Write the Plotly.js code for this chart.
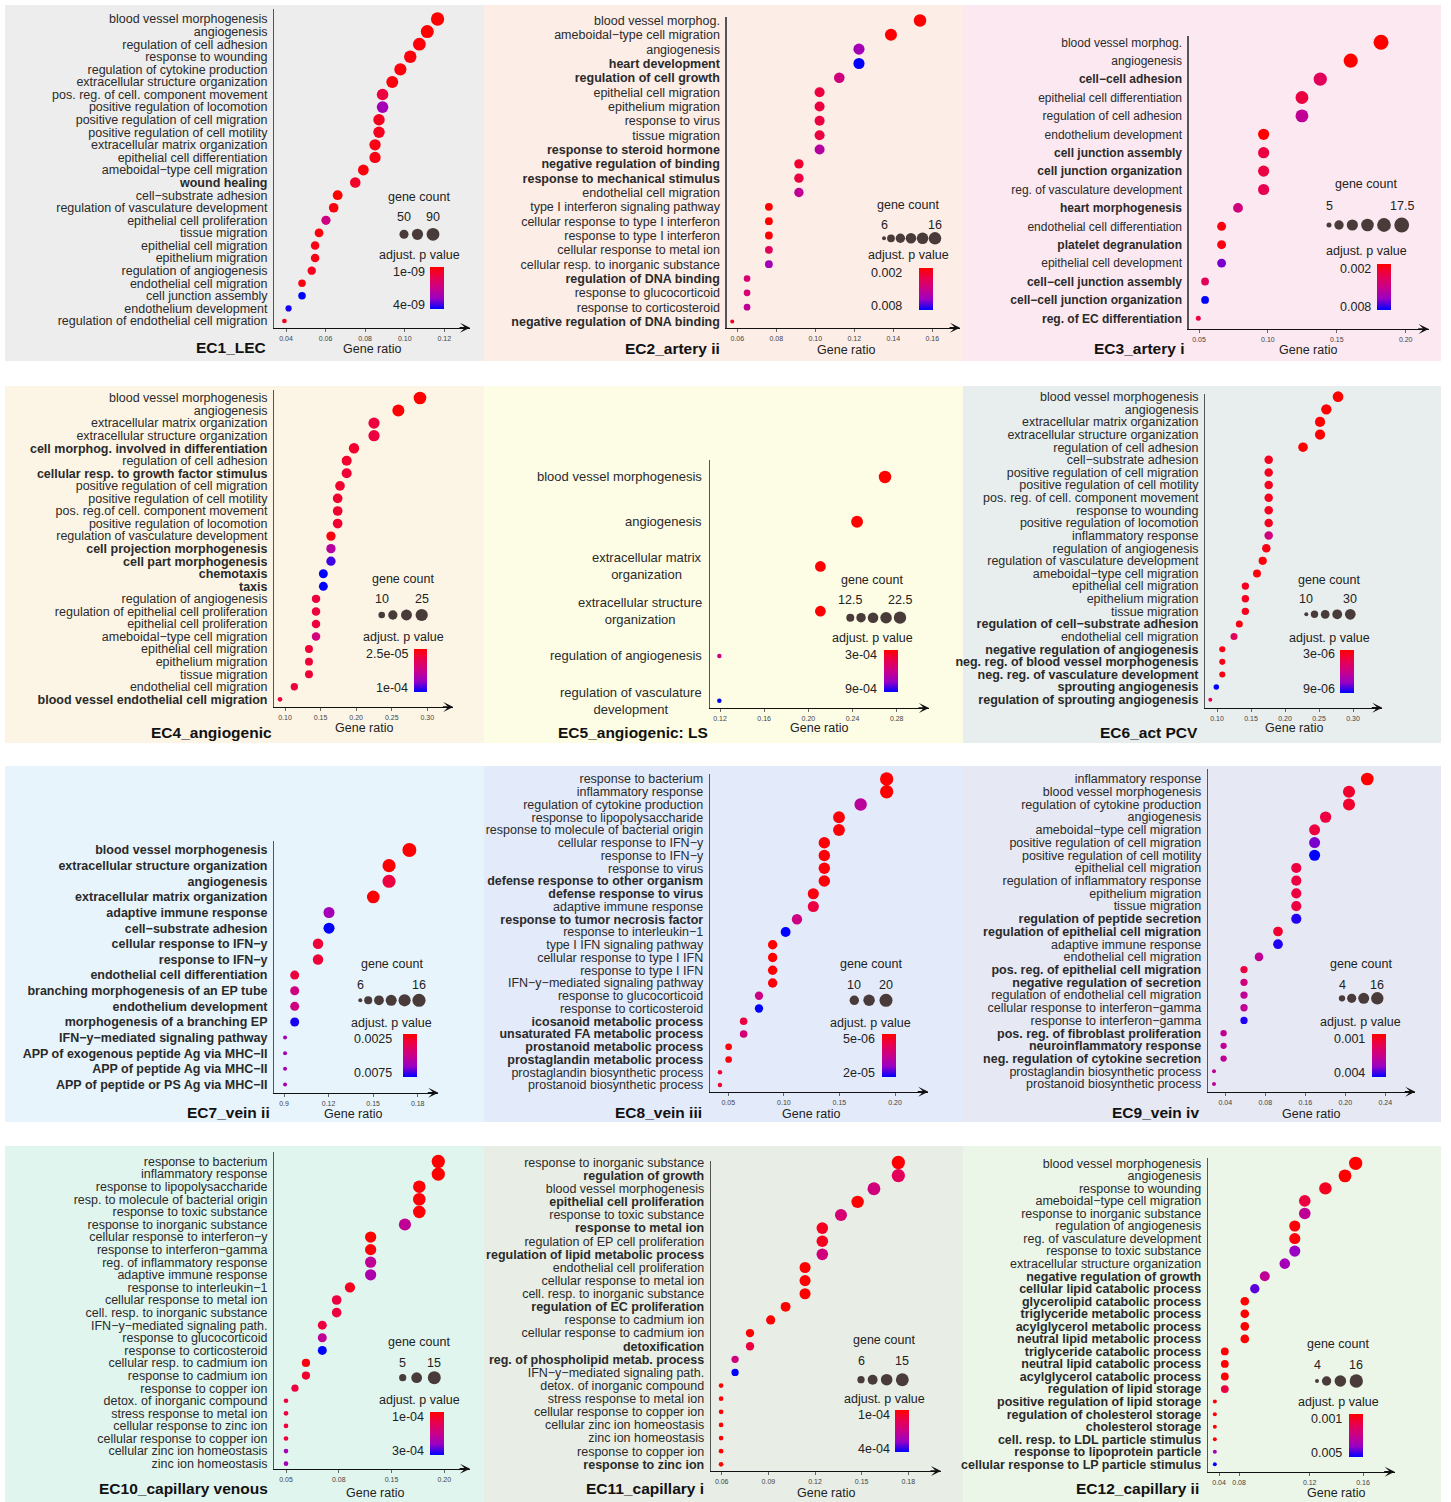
<!DOCTYPE html>
<html><head><meta charset="utf-8">
<script src="https://cdn.plot.ly/plotly-3.0.1.min.js"></script>
<style>html,body{margin:0;padding:0;background:#fff}</style>
</head><body><div id="chart" style="width:1451px;height:1502px"></div>
<script>
// ================= DATA =================
// EC1_LEC
const ec1Terms = ['blood vessel morphogenesis','angiogenesis','regulation of cell adhesion','response to wounding','regulation of cytokine production','extracellular structure organization','pos. reg. of cell. component movement','positive regulation of locomotion','positive regulation of cell migration','positive regulation of cell motility','extracellular matrix organization','epithelial cell differentiation','ameboidal−type cell migration','wound healing','cell−substrate adhesion','regulation of vasculature development','epithelial cell proliferation','tissue migration','epithelial cell migration','epithelium migration','regulation of angiogenesis','endothelial cell migration','cell junction assembly','endothelium development','regulation of endothelial cell migration'];
const ec1Ratio = [0.1166,0.1114,0.1074,0.1028,0.0978,0.0937,0.0888,0.0888,0.0870,0.0870,0.0850,0.0850,0.0791,0.0750,0.0661,0.0641,0.0602,0.0567,0.0547,0.0547,0.0530,0.0481,0.0481,0.0413,0.0392];
const ec1Count = [98,94,90,86,82,79,75,75,73,73,71,71,66,63,56,54,51,48,46,46,45,40,40,35,33];
const ec1PAdj = [1.0e-9,1.0e-9,1.1e-9,1.1e-9,1.1e-9,1.1e-9,1.6e-9,3.1e-9,1.3e-9,1.3e-9,1.2e-9,1.2e-9,1.1e-9,1.4e-9,1.0e-9,1.1e-9,2.4e-9,1.1e-9,1.2e-9,1.2e-9,1.3e-9,1.1e-9,4.0e-9,3.9e-9,1.3e-9];
const ec1Bold = [13];
const ec1SizeBreaks = [50,70,90];
const ec1SizeLabels = ['50','90'];
const ec1PLabels = ['1e-09','4e-09'];
const ec1XTicks = [0.04,0.06,0.08,0.10,0.12];
const ec1XTickText = ['0.04','0.06','0.08','0.10','0.12'];

// EC2_artery ii
const ec2Terms = ['blood vessel morphog.','ameboidal−type cell migration','angiogenesis','heart development','regulation of cell growth','epithelial cell migration','epithelium migration','response to virus','tissue migration','response to steroid hormone','negative regulation of binding','response to mechanical stimulus','endothelial cell migration','type I interferon signaling pathway','cellular response to type I interferon','response to type I interferon','cellular response to metal ion','cellular resp. to inorganic substance','regulation of DNA binding','response to glucocorticoid','response to corticosteroid','negative regulation of DNA binding'];
const ec2Ratio = [0.1537,0.1388,0.1224,0.1224,0.1123,0.1022,0.1022,0.1022,0.1022,0.1022,0.0916,0.0916,0.0916,0.0762,0.0762,0.0762,0.0762,0.0762,0.0650,0.0650,0.0650,0.0574];
const ec2Count = [16,15,13,13,12,11,11,11,11,11,10,10,10,8,8,8,8,8,7,7,7,6];
const ec2PAdj = [0.002,0.002,0.0062,0.008,0.0047,0.0032,0.0032,0.0032,0.0032,0.0056,0.0029,0.0032,0.0053,0.002,0.002,0.0021,0.0038,0.0062,0.0044,0.0044,0.0053,0.0026];
const ec2Bold = [3,4,9,10,11,18,21];
const ec2SizeBreaks = [6,8,10,12,14,16];
const ec2SizeLabels = ['6','16'];
const ec2PLabels = ['0.002','0.008'];
const ec2XTicks = [0.06,0.08,0.10,0.12,0.14,0.16];
const ec2XTickText = ['0.06','0.08','0.10','0.12','0.14','0.16'];

// EC3_artery i
const ec3Terms = ['blood vessel morphog.','angiogenesis','cell−cell adhesion','epithelial cell differentiation','regulation of cell adhesion','endothelium development','cell junction assembly','cell junction organization','reg. of vasculature development','heart morphogenesis','endothelial cell differentiation','platelet degranulation','epithelial cell development','cell−cell junction assembly','cell−cell junction organization','reg. of EC differentiation'];
const ec3Ratio = [0.1821,0.1601,0.1380,0.1247,0.1247,0.0969,0.0969,0.0969,0.0969,0.0783,0.0664,0.0664,0.0664,0.0544,0.0544,0.0495];
const ec3Count = [18,16,14,13,13,10,10,10,10,8,7,7,7,6,6,5];
const ec3PAdj = [0.002,0.002,0.0038,0.0032,0.0053,0.002,0.0032,0.0032,0.0035,0.0047,0.0023,0.0023,0.0068,0.0038,0.008,0.0032];
const ec3Bold = [2,6,7,9,11,13,14,15];
const ec3SizeBreaks = [5,7.5,10,12.5,15,17.5];
const ec3SizeLabels = ['5','17.5'];
const ec3PLabels = ['0.002','0.008'];
const ec3XTicks = [0.05,0.10,0.15,0.20];
const ec3XTickText = ['0.05','0.10','0.15','0.20'];

// EC4_angiogenic
const ec4Terms = ['blood vessel morphogenesis','angiogenesis','extracellular matrix organization','extracellular structure organization','cell morphog. involved in differentiation','regulation of cell adhesion','cellular resp. to growth factor stimulus','positive regulation of cell migration','positive regulation of cell motility','pos. reg.of cell. component movement','positive regulation of locomotion','regulation of vasculature development','cell projection morphogenesis','cell part morphogenesis','chemotaxis','taxis','regulation of angiogenesis','regulation of epithelial cell proliferation','epithelial cell proliferation','ameboidal−type cell migration','epithelial cell migration','epithelium migration','tissue migration','endothelial cell migration','blood vessel endothelial cell migration'];
const ec4Ratio = [0.2897,0.2593,0.2251,0.2251,0.1970,0.1867,0.1867,0.1773,0.1740,0.1740,0.1740,0.1646,0.1646,0.1646,0.1539,0.1539,0.1436,0.1436,0.1436,0.1436,0.1337,0.1337,0.1337,0.1131,0.0930];
const ec4Count = [27,24,21,21,18,17,17,16,16,16,16,15,15,15,14,14,13,13,13,13,12,12,12,11,9];
const ec4PAdj = [2.5e-5,2.6e-5,4.0e-5,4.0e-5,3.6e-5,3.6e-5,3.8e-5,3.6e-5,3.6e-5,3.6e-5,3.6e-5,2.8e-5,7.0e-5,9.2e-5,1.0e-4,1.0e-4,4.0e-5,4.0e-5,4.0e-5,5.9e-5,3.8e-5,3.8e-5,3.8e-5,4.0e-5,4.0e-5];
const ec4Bold = [4,6,12,13,14,15,24];
const ec4SizeBreaks = [10,15,20,25];
const ec4SizeLabels = ['10','25'];
const ec4PLabels = ['2.5e-05','1e-04'];
const ec4XTicks = [0.10,0.15,0.20,0.25,0.30];
const ec4XTickText = ['0.10','0.15','0.20','0.25','0.30'];

// EC5_angiogenic: LS
const ec5Terms = ['blood vessel morphogenesis','angiogenesis','extracellular matrix<br>organization','extracellular structure<br>organization','regulation of angiogenesis','regulation of vasculature<br>development'];
const ec5Ratio = [0.2694,0.2441,0.2109,0.2109,0.1194,0.1194];
const ec5Count = [23,21,18,18,10,10];
const ec5PAdj = [3.0e-4,3.0e-4,3.0e-4,3.0e-4,5.7e-4,9.0e-4];
const ec5Bold = [];
const ec5SizeBreaks = [12.5,15,17.5,20,22.5];
const ec5SizeLabels = ['12.5','22.5'];
const ec5PLabels = ['3e-04','9e-04'];
const ec5XTicks = [0.12,0.16,0.20,0.24,0.28];
const ec5XTickText = ['0.12','0.16','0.20','0.24','0.28'];

// EC6_act PCV
const ec6Terms = ['blood vessel morphogenesis','angiogenesis','extracellular matrix organization','extracellular structure organization','regulation of cell adhesion','cell−substrate adhesion','positive regulation of cell migration','positive regulation of cell motility','pos. reg. of cell. component movement','response to wounding','positive regulation of locomotion','inflammatory response','regulation of angiogenesis','regulation of vasculature development','ameboidal−type cell migration','epithelial cell migration','epithelium migration','tissue migration','regulation of cell−substrate adhesion','endothelial cell migration','negative regulation of angiogenesis','neg. reg. of blood vessel morphogenesis','neg. reg. of vasculature development','sprouting angiogenesis','regulation of sprouting angiogenesis'];
const ec6Ratio = [0.2780,0.2608,0.2515,0.2515,0.2265,0.1760,0.1760,0.1760,0.1760,0.1760,0.1760,0.1760,0.1725,0.1672,0.1588,0.1417,0.1417,0.1417,0.1328,0.1250,0.1078,0.1078,0.1078,0.0990,0.0902];
const ec6Count = [30,28,27,27,24,19,19,19,19,19,19,19,19,18,17,15,15,15,14,14,12,12,12,11,10];
const ec6PAdj = [3.0e-6,3.0e-6,3.0e-6,3.0e-6,3.0e-6,3.6e-6,3.6e-6,3.6e-6,3.6e-6,3.6e-6,3.6e-6,5.7e-6,3.4e-6,3.2e-6,3.2e-6,3.6e-6,3.6e-6,3.6e-6,3.3e-6,4.8e-6,3.4e-6,3.4e-6,3.4e-6,9.0e-6,4.5e-6];
const ec6Bold = [18,20,21,22,23,24];
const ec6SizeBreaks = [10,15,20,25,30];
const ec6SizeLabels = ['10','30'];
const ec6PLabels = ['3e-06','9e-06'];
const ec6XTicks = [0.10,0.15,0.20,0.25,0.30];
const ec6XTickText = ['0.10','0.15','0.20','0.25','0.30'];

// EC7_vein ii
const ec7Terms = ['blood vessel morphogenesis','extracellular structure organization','angiogenesis','extracellular matrix organization','adaptive immune response','cell−substrate adhesion','cellular response to IFN−y','response to IFN−y','endothelial cell differentiation','branching morphogenesis of an EP tube','endothelium development','morphogenesis of a branching EP','IFN−y−mediated signaling pathway','APP of exogenous peptide Ag via MHC−II','APP of peptide Ag via MHC−II','APP of peptide or PS Ag via MHC−II'];
const ec7Ratio = [0.1744,0.1607,0.1607,0.1501,0.1203,0.1203,0.1129,0.1129,0.0972,0.0972,0.0972,0.0972,0.0907,0.0907,0.0907,0.0907];
const ec7Count = [18,16,16,15,12,12,11,11,9,9,9,9,6,6,6,6];
const ec7PAdj = [0.0025,0.0025,0.0035,0.0026,0.006,0.0075,0.0034,0.0034,0.0035,0.0048,0.0048,0.0073,0.006,0.006,0.006,0.006];
const ec7Bold = [0,1,2,3,4,5,6,7,8,9,10,11,12,13,14,15];
const ec7SizeBreaks = [6,8,10,12,14,16];
const ec7SizeLabels = ['6','16'];
const ec7PLabels = ['0.0025','0.0075'];
const ec7XTicks = [0.09,0.12,0.15,0.18];
const ec7XTickText = ['0.9','0.12','0.15','0.18'];

// EC8_vein iii
const ec8Terms = ['response to bacterium','inflammatory response','regulation of cytokine production','response to lipopolysaccharide','response to molecule of bacterial origin','cellular response to IFN−y','response to IFN−y','response to virus','defense response to other organism','defense response to virus','adaptive immune response','response to tumor necrosis factor','response to interleukin−1','type I IFN signaling pathway','cellular response to type I IFN','response to type I IFN','IFN−y−mediated signaling pathway','response to glucocorticoid','response to corticosteroid','icosanoid metabolic process','unsaturated FA metabolic process','prostanoid metabolic process','prostaglandin metabolic process','prostaglandin biosynthetic process','prostanoid biosynthetic process'];
const ec8Ratio = [0.1925,0.1925,0.1691,0.1496,0.1496,0.1364,0.1364,0.1364,0.1364,0.1265,0.1265,0.1118,0.1016,0.0899,0.0899,0.0899,0.0899,0.0776,0.0776,0.0638,0.0638,0.0503,0.0503,0.0425,0.0425];
const ec8Count = [21,21,18,16,16,15,15,15,15,14,14,12,11,10,10,10,10,8,8,7,7,6,6,5,5];
const ec8PAdj = [5.0e-6,5.0e-6,1.33e-5,5.3e-6,5.3e-6,5.3e-6,5.3e-6,5.3e-6,5.3e-6,5.6e-6,8.0e-6,1.18e-5,1.93e-5,5.0e-6,5.0e-6,5.0e-6,5.3e-6,1.18e-5,1.93e-5,8.0e-6,1.1e-5,5.6e-6,5.6e-6,7.3e-6,7.3e-6];
const ec8Bold = [8,9,11,19,20,21,22];
const ec8SizeBreaks = [10,15,20];
const ec8SizeLabels = ['10','20'];
const ec8PLabels = ['5e-06','2e-05'];
const ec8XTicks = [0.05,0.10,0.15,0.20];
const ec8XTickText = ['0.05','0.10','0.15','0.20'];

// EC9_vein iv
const ec9Terms = ['inflammatory response','blood vessel morphogenesis','regulation of cytokine production','angiogenesis','ameboidal−type cell migration','positive regulation of cell migration','positive regulation of cell motility','epithelial cell migration','regulation of inflammatory response','epithelium migration','tissue migration','regulation of peptide secretion','regulation of epithelial cell migration','adaptive immune response','endothelial cell migration','pos. reg. of epithelial cell migration','negative regulation of secretion','regulation of endothelial cell migration','cellular response to interferon−gamma','response to interferon−gamma','pos. reg. of fibroblast proliferation','neuroinflammatory response','neg. regulation of cytokine secretion','prostaglandin biosynthetic process','prostanoid biosynthetic process'];
const ec9Ratio = [0.1820,0.1637,0.1637,0.1403,0.1293,0.1293,0.1293,0.1110,0.1110,0.1110,0.1110,0.1110,0.0927,0.0927,0.0737,0.0587,0.0587,0.0587,0.0587,0.0587,0.0383,0.0383,0.0383,0.0287,0.0287];
const ec9Count = [17,15,15,13,12,12,12,10,10,10,10,10,9,9,7,5,5,5,5,5,4,4,4,3,3];
const ec9PAdj = [0.001,0.00145,0.00145,0.0016,0.0016,0.0034,0.004,0.0016,0.0016,0.0016,0.0016,0.00385,0.00145,0.00385,0.00265,0.0016,0.00235,0.00265,0.00265,0.00385,0.00265,0.00265,0.00265,0.00265,0.00265];
const ec9Bold = [11,12,15,16,20,21,22];
const ec9SizeBreaks = [4,8,12,16];
const ec9SizeLabels = ['4','16'];
const ec9PLabels = ['0.001','0.004'];
const ec9XTicks = [0.04,0.08,0.12,0.16,0.20];
const ec9XTickText = ['0.04','0.08','0.16','0.20','0.24'];

// EC10_capillary venous
const ec10Terms = ['response to bacterium','inflammatory response','response to lipopolysaccharide','resp. to molecule of bacterial origin','response to toxic substance','response to inorganic substance','cellular response to interferon−y','response to interferon−gamma','reg. of inflammatory response','adaptive immune response','response to interleukin−1','cellular response to metal ion','cell. resp. to inorganic substance','IFN−y−mediated signaling path.','response to glucocorticoid','response to corticosteroid','cellular resp. to cadmium ion','response to cadmium ion','response to copper ion','detox. of inorganic compound','stress response to metal ion','cellular response to zinc ion','cellular response to copper ion','cellular zinc ion homeostasis','zinc ion homeostasis'];
const ec10Ratio = [0.1943,0.1943,0.1763,0.1763,0.1763,0.1627,0.1302,0.1302,0.1302,0.1302,0.1106,0.0980,0.0980,0.0844,0.0844,0.0844,0.0689,0.0689,0.0585,0.0500,0.0500,0.0500,0.0500,0.0500,0.0500];
const ec10Count = [16,16,14,14,14,13,11,11,11,11,9,8,8,7,7,7,6,6,5,4,4,4,4,4,4];
const ec10PAdj = [1.0e-4,1.0e-4,1.05e-4,1.05e-4,1.05e-4,2.1e-4,1.0e-4,1.05e-4,2.1e-4,2.3e-4,1.2e-4,1.4e-4,1.4e-4,1.4e-4,2.1e-4,3.0e-4,1.1e-4,1.3e-4,1.4e-4,1.4e-4,1.4e-4,1.4e-4,1.4e-4,2.4e-4,2.4e-4];
const ec10Bold = [];
const ec10SizeBreaks = [5,10,15];
const ec10SizeLabels = ['5','15'];
const ec10PLabels = ['1e-04','3e-04'];
const ec10XTicks = [0.05,0.10,0.15,0.20];
const ec10XTickText = ['0.05','0.08','0.15','0.20'];

// EC11_capillary i
const ec11Terms = ['response to inorganic substance','regulation of growth','blood vessel morphogenesis','epithelial cell proliferation','response to toxic substance','response to metal ion','regulation of EP cell proliferation','regulation of lipid metabolic process','endothelial cell proliferation','cellular response to metal ion','cell. resp. to inorganic substance','regulation of EC proliferation','response to cadmium ion','cellular response to cadmium ion','detoxification','reg. of phospholipid metab. process','IFN−y−mediated signaling path.','detox. of inorganic compound','stress response to metal ion','cellular response to copper ion','cellular zinc ion homeostasis','zinc ion homeostasis','response to copper ion','response to zinc ion'];
const ec11Ratio = [0.1736,0.1736,0.1579,0.1474,0.1367,0.1247,0.1247,0.1247,0.1136,0.1136,0.1136,0.1011,0.0915,0.0782,0.0782,0.0686,0.0686,0.0596,0.0596,0.0596,0.0596,0.0596,0.0596,0.0596];
const ec11Count = [16,16,15,14,13,12,12,12,11,11,11,9,8,7,7,6,6,5,5,5,5,5,5,5];
const ec11PAdj = [1.0e-4,1.9e-4,2.35e-4,1.0e-4,2.2e-4,1.3e-4,1.3e-4,2.35e-4,1.0e-4,1.0e-4,1.0e-4,1.0e-4,1.0e-4,1.0e-4,1.6e-4,2.35e-4,4.0e-4,1.0e-4,1.0e-4,1.0e-4,1.0e-4,1.0e-4,1.0e-4,1.0e-4];
const ec11Bold = [1,3,5,7,11,14,15,23];
const ec11SizeBreaks = [6,9,12,15];
const ec11SizeLabels = ['6','15'];
const ec11PLabels = ['1e-04','4e-04'];
const ec11XTicks = [0.06,0.09,0.12,0.15,0.18];
const ec11XTickText = ['0.06','0.09','0.12','0.15','0.18'];

// EC12_capillary ii
const ec12Terms = ['blood vessel morphogenesis','angiogenesis','response to wounding','ameboidal−type cell migration','response to inorganic substance','regulation of angiogenesis','reg. of vasculature development','response to toxic substance','extracellular structure organization','negative regulation of growth','cellular lipid catabolic process','glycerolipid catabolic process','triglyceride metabolic process','acylglycerol metabolic process','neutral lipid metabolic process','triglyceride catabolic process','neutral lipid catabolic process','acylglycerol catabolic process','regulation of lipid storage','positive regulation of lipid storage','regulation of cholesterol storage','cholesterol storage','cell. resp. to LDL particle stimulus','response to lipoprotein particle','cellular response to LP particle stimulus'];
const ec12Ratio = [0.1545,0.1465,0.1318,0.1163,0.1163,0.1088,0.1088,0.1088,0.1013,0.0863,0.0788,0.0713,0.0713,0.0713,0.0713,0.0563,0.0563,0.0563,0.0563,0.0488,0.0488,0.0488,0.0488,0.0488,0.0488];
const ec12Count = [16,15,14,12,12,11,11,11,10,9,8,7,7,7,7,6,6,6,6,4,4,4,4,4,4];
const ec12PAdj = [0.001,0.001,0.0014,0.0018,0.0032,0.0011,0.0011,0.004,0.0038,0.0032,0.0044,0.001,0.001,0.001,0.001,0.001,0.001,0.001,0.0018,0.001,0.001,0.001,0.001,0.0038,0.005];
const ec12Bold = [9,10,11,12,13,14,15,16,17,18,19,20,21,22,23,24];
const ec12SizeBreaks = [4,8,12,16];
const ec12SizeLabels = ['4','16'];
const ec12PLabels = ['0.001','0.005'];
const ec12XTicks = [0.052,0.067,0.12,0.16];
const ec12XTickText = ['0.04','0.08','0.12','0.16'];

// ================= LAYOUT / STYLE =================
const FONT = 'Liberation Sans, Arial, Helvetica, sans-serif';
const W = 1451, H = 1502;
const X = v => v / W, Y = v => 1 - v / H;
const COLORSCALE = [[0,'#0000FF'],[0.25,'#9A00C3'],[0.5,'#CA0089'],[0.75,'#E8004F'],[1,'#FF0000']];
const KEY_COLOR = '#4a3b3b';

const panels = [
 {name:'EC1_LEC', terms:ec1Terms, ratio:ec1Ratio, count:ec1Count, p:ec1PAdj, bold:ec1Bold, sb:ec1SizeBreaks, sl:ec1SizeLabels, pl:ec1PLabels, xt:ec1XTicks, xtt:ec1XTickText,
  bg:'#EDEDED', box:[5,5,484,361],
  a:{x0:274.3,x1:470,top:9,bottom:327.7,first:19,last:321,cal:[0.04,286,0.12,444.3]}, dot:[4.7,13.3], lf:12.5,
  title:[268.3,347.7], gr:[372,349],
  leg:{cx:419.3,gc:196.7,sl:217.3,dot:234.3,d0:404,d1:433,adj:255,bar:[430,444.3,267.3,309.3],blR:426.7}},
 {name:'EC2_artery ii', terms:ec2Terms, ratio:ec2Ratio, count:ec2Count, p:ec2PAdj, bold:ec2Bold, sb:ec2SizeBreaks, sl:ec2SizeLabels, pl:ec2PLabels, xt:ec2XTicks, xtt:ec2XTickText,
  bg:'#FCEDE7', box:[484,5,963,361],
  a:{x0:726.7,x1:960,top:16.7,bottom:327.7,first:20.5,last:321.5,cal:[0.06,737.3,0.16,932.3]}, dot:[4,12.5], lf:12.5,
  title:[721.7,348.3], gr:[845.7,350],
  leg:{cx:908.3,gc:205,sl:225,dot:238.3,d0:884,d1:935,adj:255,bar:[919.3,933.3,268,310],blR:904}},
 {name:'EC3_artery i', terms:ec3Terms, ratio:ec3Ratio, count:ec3Count, p:ec3PAdj, bold:ec3Bold, sb:ec3SizeBreaks, sl:ec3SizeLabels, pl:ec3PLabels, xt:ec3XTicks, xtt:ec3XTickText,
  bg:'#FCE8F0', box:[963,5,1441,361],
  a:{x0:1188.7,x1:1428.7,top:35.7,bottom:329,first:42.3,last:318.3,cal:[0.05,1199,0.20,1405.7]}, dot:[5,15], lf:12,
  title:[1185.7,348.3], gr:[1308,350],
  leg:{cx:1366.3,gc:184,sl:206.3,dot:225,d0:1329,d1:1401.7,adj:250.7,bar:[1377.3,1391.3,264.3,310.7],blR:1373}},
 {name:'EC4_angiogenic', terms:ec4Terms, ratio:ec4Ratio, count:ec4Count, p:ec4PAdj, bold:ec4Bold, sb:ec4SizeBreaks, sl:ec4SizeLabels, pl:ec4PLabels, xt:ec4XTicks, xtt:ec4XTickText,
  bg:'#FCF5E6', box:[5,386,484,743],
  a:{x0:274.3,x1:453.3,top:390.3,bottom:707,first:398,last:699.3,cal:[0.10,285,0.30,427.3]}, dot:[4.7,12.7], lf:12.5,
  title:[274.3,732], gr:[364.3,727.7],
  leg:{cx:403.3,gc:579.3,sl:599.3,dot:615,d0:381.7,d1:421.7,adj:637,bar:[414.3,427.7,649.3,692],blR:410}},
 {name:'EC5_angiogenic: LS', terms:ec5Terms, ratio:ec5Ratio, count:ec5Count, p:ec5PAdj, bold:ec5Bold, sb:ec5SizeBreaks, sl:ec5SizeLabels, pl:ec5PLabels, xt:ec5XTicks, xtt:ec5XTickText,
  bg:'#FDFDE5', box:[484,386,963,743], annotLabels:704,
  a:{x0:710,x1:929,top:459.7,bottom:708,first:477,last:700.7,cal:[0.12,720,0.28,896.7]}, dot:[4.5,12.5], lf:13,
  title:[710.3,732.7], gr:[819,727.7],
  leg:{cx:872.3,gc:580.3,sl:600.3,dot:617.7,d0:850.3,d1:900,adj:637.7,bar:[883.7,897.7,650.3,692.7],blR:879.3}},
 {name:'EC6_act PCV', terms:ec6Terms, ratio:ec6Ratio, count:ec6Count, p:ec6PAdj, bold:ec6Bold, sb:ec6SizeBreaks, sl:ec6SizeLabels, pl:ec6PLabels, xt:ec6XTicks, xtt:ec6XTickText,
  bg:'#E8EEEE', box:[963,386,1441,743],
  a:{x0:1205.3,x1:1382.3,top:393.7,bottom:707.7,first:396.7,last:699.7,cal:[0.10,1217,0.30,1353]}, dot:[4,10.7], lf:12.5,
  title:[1199.7,732.7], gr:[1294,727.7],
  leg:{cx:1329,gc:579.7,sl:599.3,dot:614.3,d0:1306.3,d1:1350.3,adj:637.7,bar:[1340,1354,649.7,692.7],blR:1337}},
 {name:'EC7_vein ii', terms:ec7Terms, ratio:ec7Ratio, count:ec7Count, p:ec7PAdj, bold:ec7Bold, sb:ec7SizeBreaks, sl:ec7SizeLabels, pl:ec7PLabels, xt:ec7XTicks, xtt:ec7XTickText,
  bg:'#E7F4FC', box:[5,766,484,1122],
  a:{x0:274.3,x1:438.3,top:841,bottom:1092.7,first:850,last:1084.5,cal:[0.09,284,0.18,417.7]}, dot:[4,14], lf:12.5,
  title:[271.7,1112.7], gr:[353.3,1114.3],
  leg:{cx:391.7,gc:964.3,sl:985,dot:1000.3,d0:360.3,d1:419,adj:1022.7,bar:[403.3,417.3,1034.3,1077],blR:394.3}},
 {name:'EC8_vein iii', terms:ec8Terms, ratio:ec8Ratio, count:ec8Count, p:ec8PAdj, bold:ec8Bold, sb:ec8SizeBreaks, sl:ec8SizeLabels, pl:ec8PLabels, xt:ec8XTicks, xtt:ec8XTickText,
  bg:'#E3EAFA', box:[484,766,963,1122],
  a:{x0:710,x1:928.3,top:774.3,bottom:1091.7,first:779,last:1085,cal:[0.05,728.3,0.20,895]}, dot:[4.5,13.3], lf:12.5,
  title:[704,1112.7], gr:[811,1114.3],
  leg:{cx:870.7,gc:964.3,sl:985,dot:1000.3,d0:854.3,d1:886,adj:1022.7,bar:[881.7,895.7,1034.3,1077],blR:877.3}},
 {name:'EC9_vein iv', terms:ec9Terms, ratio:ec9Ratio, count:ec9Count, p:ec9PAdj, bold:ec9Bold, sb:ec9SizeBreaks, sl:ec9SizeLabels, pl:ec9PLabels, xt:ec9XTicks, xtt:ec9XTickText,
  bg:'#E6E8F3', box:[963,766,1441,1122],
  a:{x0:1208,x1:1415.3,top:768.7,bottom:1091.7,first:779,last:1084,cal:[0.04,1225.3,0.20,1385.3]}, dot:[4,12.7], lf:12.5,
  title:[1201.3,1112.7], gr:[1311.3,1114.3],
  leg:{cx:1360.7,gc:963.7,sl:985,dot:998.3,d0:1342,d1:1377.3,adj:1022,bar:[1372,1385.7,1034.3,1077],blR:1367.3}},
 {name:'EC10_capillary venous', terms:ec10Terms, ratio:ec10Ratio, count:ec10Count, p:ec10PAdj, bold:ec10Bold, sb:ec10SizeBreaks, sl:ec10SizeLabels, pl:ec10PLabels, xt:ec10XTicks, xtt:ec10XTickText,
  bg:'#E1F5EF', box:[5,1146,484,1502],
  a:{x0:274.3,x1:470,top:1152,bottom:1468.7,first:1161.5,last:1463.7,cal:[0.05,286,0.20,444.3]}, dot:[4.7,13.3], lf:12.5,
  title:[270,1488.7], gr:[375,1492.7],
  leg:{cx:419.3,gc:1342,sl:1362.7,dot:1377.7,d0:402.7,d1:434.3,adj:1400.3,bar:[430,444.3,1412,1455.3],blR:425.7}},
 {name:'EC11_capillary i', terms:ec11Terms, ratio:ec11Ratio, count:ec11Count, p:ec11PAdj, bold:ec11Bold, sb:ec11SizeBreaks, sl:ec11SizeLabels, pl:ec11PLabels, xt:ec11XTicks, xtt:ec11XTickText,
  bg:'#E8EEE6', box:[484,1146,963,1502],
  a:{x0:711,x1:941,top:1161,bottom:1471,first:1162.5,last:1464.3,cal:[0.06,721.7,0.18,908.3]}, dot:[4.7,13.3], lf:12.5,
  title:[705.7,1488.7], gr:[825.7,1492.7],
  leg:{cx:884,gc:1340.3,sl:1361,dot:1379.7,d0:861,d1:902.3,adj:1398.7,bar:[895,909,1410.3,1452.7],blR:891.7}},
 {name:'EC12_capillary ii', terms:ec12Terms, ratio:ec12Ratio, count:ec12Count, p:ec12PAdj, bold:ec12Bold, sb:ec12SizeBreaks, sl:ec12SizeLabels, pl:ec12PLabels, xt:ec12XTicks, xtt:ec12XTickText,
  bg:'#EBF6E9', box:[963,1146,1441,1502],
  a:{x0:1208,x1:1394.7,top:1157.7,bottom:1471.7,first:1163.3,last:1464.3,cal:[0.12,1309.7,0.16,1363]}, dot:[4,13.3], lf:12.5,
  title:[1201.3,1488.7], gr:[1335.7,1492.7],
  leg:{cx:1338,gc:1343.7,sl:1365,dot:1381,d0:1317,d1:1356.3,adj:1402,bar:[1349,1363,1414.3,1457],blR:1344}}
];

const traces = [], shapes = [], annotations = [];
const layout = {
  width: W, height: H, margin: {l:0, r:0, t:0, b:0, pad:0},
  paper_bgcolor: '#ffffff', plot_bgcolor: 'rgba(0,0,0,0)',
  showlegend: false, hovermode: false,
  font: {family: FONT, color: '#222'}
};
// overlay axis in page pixel units for legend keys
layout.xaxis13 = {domain:[0,1], range:[0,W], visible:false, fixedrange:true, anchor:'y13'};
layout.yaxis13 = {domain:[0,1], range:[H,0], visible:false, fixedrange:true, anchor:'x13'};

function txt(text, x, y, size, opts) {
  return Object.assign({text: text, xref:'paper', yref:'paper', x: X(x), y: Y(y),
    xanchor:'center', yanchor:'middle', showarrow:false,
    font:{family:FONT, size:size, color:'#222'}}, opts || {});
}

panels.forEach((P, i) => {
  const k = i + 1, s = k === 1 ? '' : String(k);
  const n = P.terms.length, A = P.a, L = P.leg;
  const slope = (A.cal[2] - A.cal[0]) / (A.cal[3] - A.cal[1]);
  const xv = px => A.cal[0] + (px - A.cal[1]) * slope;
  const sp = (A.last - A.first) / (n - 1);
  const padT = (A.first - A.top) / sp, padB = (A.bottom - A.last) / sp;
  const cmin = Math.min(...P.count), cmax = Math.max(...P.count);
  const dia = c => P.dot[0] + (P.dot[1] - P.dot[0]) * Math.sqrt(Math.max(0, Math.min(1, (c - cmin) / (cmax - cmin))));
  const pmin = Math.min(...P.p), pmax = Math.max(...P.p);

  shapes.push({type:'rect', xref:'paper', yref:'paper', x0:X(P.box[0]), x1:X(P.box[2]), y0:Y(P.box[3]), y1:Y(P.box[1]),
    fillcolor:P.bg, line:{width:0}, layer:'below'});

  const ticktext = P.terms.map((t, j) => P.bold.includes(j) ? '<b>' + t + '</b>' : t);

  layout['xaxis' + s] = {
    domain:[X(A.x0), X(A.x1)], range:[xv(A.x0), xv(A.x1)], anchor:'y' + k,
    showline:true, linecolor:'#111', linewidth:1.4,
    ticks:'outside', ticklen:3, tickwidth:0.8, tickcolor:'#444',
    tickmode:'array', tickvals:P.xt, ticktext:P.xtt,
    tickfont:{family:FONT, size:7, color:'#444'},
    showgrid:false, zeroline:false, fixedrange:true, automargin:false
  };
  layout['yaxis' + s] = {
    domain:[Y(A.bottom), Y(A.top)], range:[n - 1 + padB, -padT], anchor:'x' + k,
    type:'category', showline:true, linecolor:'#555', linewidth:1.3,
    ticks:'', tickmode:'array', tickvals:P.terms, ticktext:ticktext,
    showticklabels: !P.annotLabels, ticklabelstandoff:3,
    tickfont:{family:FONT, size:P.lf, color:'#2a2a2a'},
    showgrid:false, zeroline:false, fixedrange:true, automargin:false
  };

  traces.push({
    type:'scatter', mode:'markers', x:P.ratio, y:P.terms,
    xaxis:'x' + k, yaxis:'y' + k, cliponaxis:false, hoverinfo:'skip',
    marker:{
      size:P.count.map(dia), color:P.p.map(v => -v),
      colorscale:COLORSCALE, cmin:-pmax, cmax:-pmin, line:{width:0}, opacity:1,
      showscale:true,
      colorbar:{x:X(L.bar[0]), xanchor:'left', xref:'paper', y:Y(L.bar[2]), yanchor:'top', yref:'paper',
        len:L.bar[3] - L.bar[2], lenmode:'pixels', thickness:L.bar[1] - L.bar[0], thicknessmode:'pixels',
        xpad:0, ypad:0, outlinewidth:0, showticklabels:false, ticks:'', title:{text:''}}
    }
  });

  // EC5 style: centered multi-line category labels
  if (P.annotLabels) {
    P.terms.forEach(t => annotations.push({text:t, xref:'paper', yref:'y' + k, x:X(P.annotLabels), y:t,
      xanchor:'right', yanchor:'middle', align:'center', showarrow:false,
      font:{family:FONT, size:P.lf, color:'#2a2a2a'}}));
  }

  // arrow head at the end of x axis
  annotations.push({text:'', xref:'paper', yref:'paper', x:X(A.x1), y:Y(A.bottom), ax:-12, ay:0,
    axref:'pixel', ayref:'pixel', showarrow:true, arrowhead:3, arrowsize:1.2, arrowwidth:1.4, arrowcolor:'#111', standoff:0});

  annotations.push(txt('<b>' + P.name + '</b>', P.title[0], P.title[1], 15.5, {xanchor:'right', font:{family:FONT, size:15.5, color:'#111'}}));
  annotations.push(txt('Gene ratio', P.gr[0], P.gr[1], 12.5));

  // size legend
  const ld = P.sb.map(dia);
  const raw = [0];
  for (let j = 1; j < ld.length; j++) raw.push(raw[j - 1] + (ld[j - 1] + ld[j]) / 2 + 2);
  const sc = raw[raw.length - 1] > 0 ? (L.d1 - L.d0) / raw[raw.length - 1] : 1;
  const lx = raw.map(r => L.d0 + r * sc);
  traces.push({type:'scatter', mode:'markers', x:lx, y:lx.map(() => L.dot), xaxis:'x13', yaxis:'y13',
    hoverinfo:'skip', cliponaxis:false, marker:{size:ld, color:KEY_COLOR, opacity:1, line:{width:0}}});
  annotations.push(txt('gene count', L.cx, L.gc, 12.5));
  annotations.push(txt(P.sl[0], lx[0], L.sl, 12.5));
  annotations.push(txt(P.sl[1], lx[lx.length - 1], L.sl, 12.5));
  annotations.push(txt('adjust. p value', L.cx, L.adj, 12.5));
  annotations.push(txt(P.pl[0], L.blR, L.bar[2] + 4.5, 12.5, {xanchor:'right'}));
  annotations.push(txt(P.pl[1], L.blR, L.bar[3] - 4, 12.5, {xanchor:'right'}));
});

layout.shapes = shapes;
layout.annotations = annotations;
Plotly.newPlot('chart', traces, layout, {displayModeBar:false, staticPlot:true});
</script>
</body></html>
